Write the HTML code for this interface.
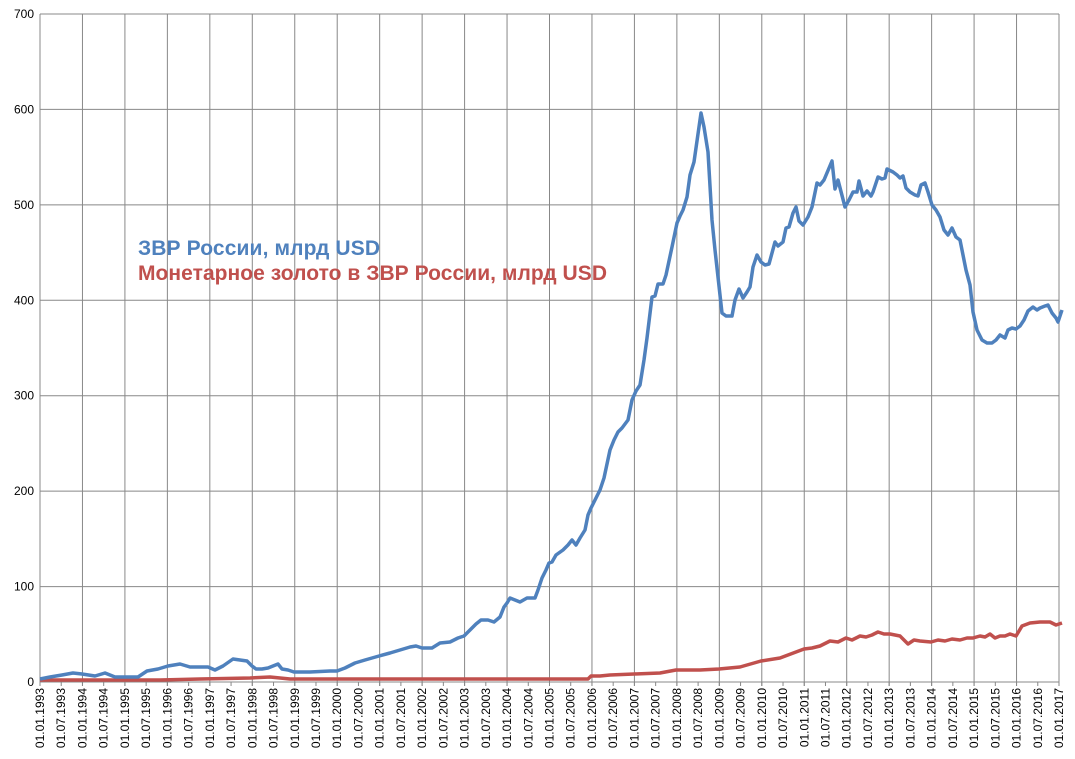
<!DOCTYPE html>
<html><head><meta charset="utf-8"><style>body{margin:0;background:#fff}svg{display:block}</style></head><body>
<svg id="s" width="1075" height="759" xmlns="http://www.w3.org/2000/svg" font-family="Liberation Sans, sans-serif">
<g id="grid" stroke="#888" stroke-width="1"></g>
<g id="lbl" font-size="12" fill="#000"></g>
<polyline fill="none" stroke="#C0504D" stroke-width="3.5" stroke-linejoin="round" points="40,680 100,680 160,680 200,679 250,678 270,677 290,679 337,679 400,679 450,679 500,679 560,679 588,679 591,676 600,676 610,675 634,674 660,673 676,670 700,670 719,669 740,667 761,661 780,658 804,649 812,648 820,646 826,643 830,641 838,642 846,638 852,640 860,636 866,637 872,635 878,632 884,634 890,634 900,636 908,644 914,640 920,641 931,642 938,640 945,641 952,639 960,640 967,638 973,638 980,636 985,637 990,634 995,638 1000,636 1005,636 1010,634 1016,636 1022,626 1030,623 1040,622 1050,622 1056,625 1062,623"/>
<polyline fill="none" stroke="#4F81BD" stroke-width="3.5" stroke-linejoin="round" points="40,679 50,677 62,675 73,673 82,674 95,676 105,673 115,677 125,677 138,677 147,671 158,669 168,666 180,664 190,667 208,667 215,670 223,666 233,659 247,661 252,666 256,669 262,669 268,668 273,666 278,664 282,669 288,670 294,672 310,672 330,671 337,671 345,668 355,663 365,660 372,658 379,656 390,653 400,650 410,647 416,646 422,648 432,648 440,643 450,642 458,638 464,636 470,630 476,624 481,620 488,620 494,622 500,617 504,607 507,603 510,598 515,600 520,602 527,598 535,598 538,590 542,578 546,570 549,563 552,562 556,555 563,550 568,545 572,540 576,545 580,538 585,530 588,515 591,508 595,500 600,490 604,478 610,450 614,440 618,432 622,428 628,420 632,400 636,391 640,385 644,360 647,338 652,297 655,296 658,284 663,284 666,275 672,247 677,223 680,216 683,210 687,197 690,175 694,162 701,113 704,127 708,152 712,220 715,250 722,313 726,316 732,316 735,300 739,289 743,298 747,292 750,287 753,267 757,255 761,262 765,265 769,264 775,242 778,246 783,242 786,228 789,227 793,213 796,207 799,221 803,225 808,217 812,207 817,183 820,185 824,180 832,161 835,189 838,180 845,207 849,200 853,192 857,192 859,181 863,196 867,191 871,196 873,192 878,177 882,179 885,178 887,169 893,172 897,175 900,178 903,176 906,188 910,192 915,195 918,196 921,185 925,183 928,192 932,205 936,210 940,217 944,230 948,235 952,228 956,237 960,240 963,255 966,270 970,285 973,312 977,330 982,340 987,343 992,343 996,340 1000,335 1005,338 1008,330 1012,328 1016,329 1020,326 1024,320 1028,311 1033,307 1037,310 1040,308 1045,306 1048,305 1052,313 1056,318 1058,322 1062,310"/>
<text x="138" y="255" font-size="21" font-weight="bold" fill="#4F81BD" textLength="242">ЗВР России, млрд USD</text>
<text x="138" y="280" font-size="21" font-weight="bold" fill="#C0504D" textLength="469">Монетарное золото в ЗВР России, млрд USD</text>
</svg>
<script>
var g=document.getElementById('grid'),l=document.getElementById('lbl'),ns='http://www.w3.org/2000/svg';
function el(p,t,a){var e=document.createElementNS(ns,t);for(var k in a)e.setAttribute(k,a[k]);p.appendChild(e);return e;}
var x0=40,x1=1059,y0=682,yt=14;
for(var i=0;i<=7;i++){var y=y0-(y0-yt)*i/7;el(g,'line',{x1:x0,x2:x1,y1:y,y2:y});var t=el(l,'text',{x:34,y:y+4,'text-anchor':'end'});t.textContent=i*100;}
for(var i=0;i<=24;i++){var x=x0+(x1-x0)*i/24;el(g,'line',{x1:x,x2:x,y1:yt,y2:y0+4});}
for(var i=0;i<=48;i++){var x=x0+(x1-x0)*i/48;el(g,'line',{x1:x,x2:x,y1:y0,y2:y0+4});var yr=1993+Math.floor(i/2);var s=(i%2?'01.07.':'01.01.')+yr;var t=el(l,'text',{transform:'translate('+(x+4)+',688) rotate(-90)','text-anchor':'end'});t.textContent=s;}
</script>
</body></html>
